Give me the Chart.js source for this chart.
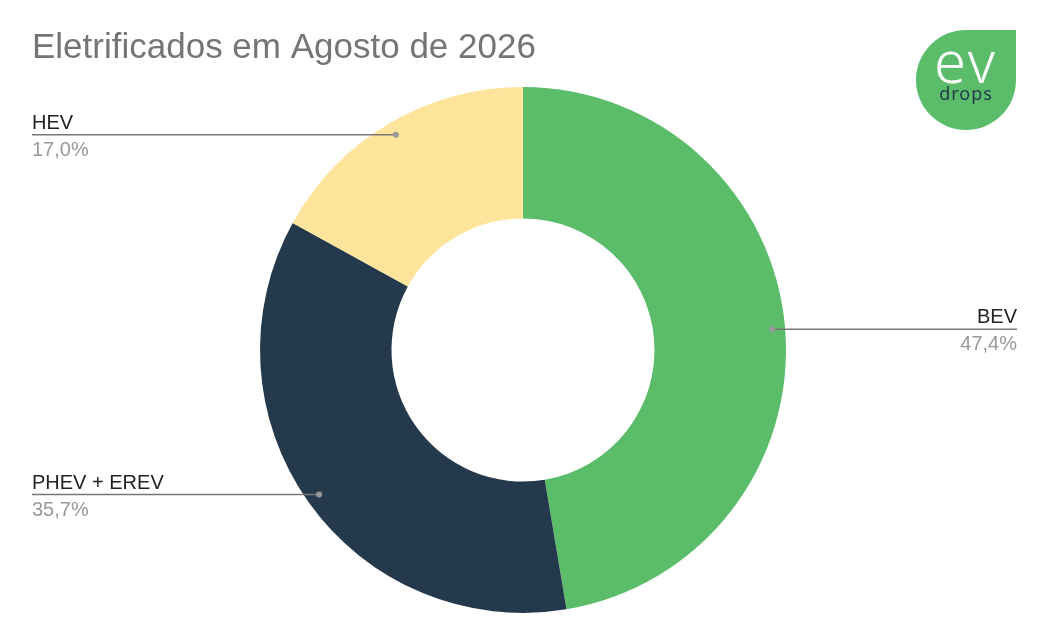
<!DOCTYPE html>
<html><head><meta charset="utf-8">
<script src="https://cdn.jsdelivr.net/npm/chart.js@4/dist/chart.umd.min.js"></script>
<style>
body{margin:0;background:#fff;font-family:Arial,"Liberation Sans",sans-serif}
#wrap{position:relative;width:1045px;height:639px}
#logo{position:absolute;left:916px;top:30px;width:100px;height:100px;background:#5bbd6a;border-radius:50% 0 50% 50%;text-align:center}
#logo .ev{color:#fff;font:300 58px "Noto Sans",sans-serif;line-height:46px;margin-top:8px;letter-spacing:3px}
#logo .dr{color:#243a4c;font:18px "Noto Sans",sans-serif;line-height:18px;letter-spacing:1px}
</style></head><body>
<div id="wrap"><canvas id="c" width="1045" height="639"></canvas>
<div id="logo"><div class="ev">ev</div><div class="dr">drops</div></div></div>
<script>
const labels = ['BEV', 'PHEV + EREV', 'HEV'];
const values = [47.4, 35.7, 17.0];
const colors = ['#5bbd6a', '#243a4c', '#ffe49b'];

const callouts = {
  id: 'callouts',
  afterDatasetsDraw(chart) {
    const ctx = chart.ctx;
    ctx.save();
    ctx.fillStyle = '#757575';
    ctx.font = '35px Arial, "Liberation Sans"';
    ctx.textBaseline = 'alphabetic';
    ctx.fillText('Eletrificados em Agosto de 2026', 32, 58);
    chart.getDatasetMeta(0).data.forEach((arc, i) => {
      const mid = (arc.startAngle + arc.endAngle) / 2;
      const r = arc.outerRadius - 13;
      const px = arc.x + Math.cos(mid) * r, py = arc.y + Math.sin(mid) * r;
      const right = px > arc.x;
      const ex = right ? 1017 : 32;
      ctx.strokeStyle = '#777'; ctx.lineWidth = 1.5;
      ctx.beginPath(); ctx.moveTo(px, py); ctx.lineTo(ex, py); ctx.stroke();
      ctx.fillStyle = '#999';
      ctx.beginPath(); ctx.arc(px, py, 3, 0, Math.PI * 2); ctx.fill();
      ctx.textAlign = right ? 'right' : 'left';
      ctx.font = '20px Arial, "Liberation Sans"';
      ctx.fillStyle = '#222';
      ctx.fillText(labels[i], ex, py - 6);
      ctx.fillStyle = '#999';
      ctx.fillText(values[i].toFixed(1).replace('.', ',') + '%', ex, py + 21);
    });
    ctx.restore();
  }
};

new Chart(document.getElementById('c'), {
  type: 'doughnut',
  data: { labels: labels, datasets: [{ data: values, backgroundColor: colors, borderWidth: 0 }] },
  options: {
    responsive: false, animation: false, cutout: '50%',
    layout: { padding: { top: 87, bottom: 26, left: 260, right: 259 } },
    plugins: { legend: { display: false }, tooltip: { enabled: false } }
  },
  plugins: [callouts]
});
</script></body></html>
